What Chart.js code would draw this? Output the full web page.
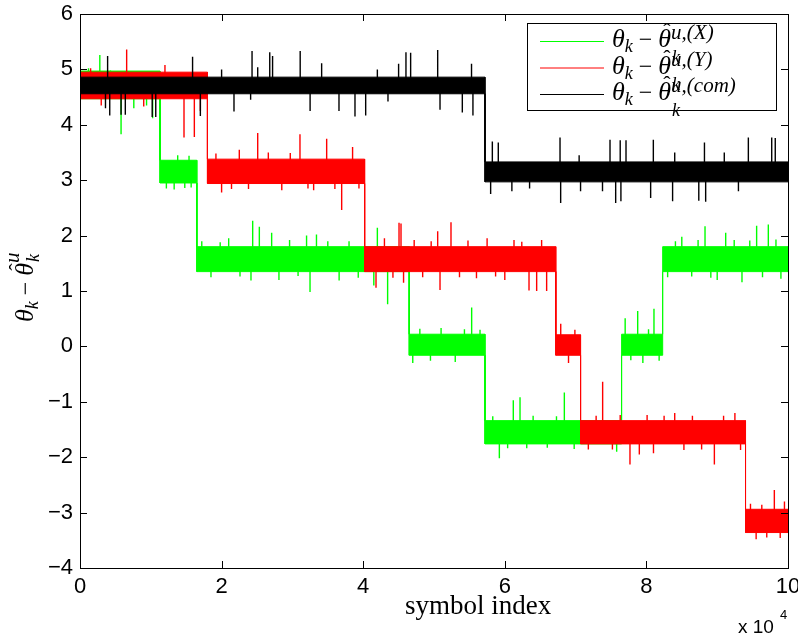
<!DOCTYPE html>
<html>
<head>
<script src="https://cdn.jsdelivr.net/npm/chart.js"></script>
<style>
  body { margin: 0; background: #fff; }
</style>
</head>
<body>
<canvas id="thetaChart" width="798" height="637"></canvas>
<script>
// step boundaries (symbol index) and edges of the dense noise band on each step
const breaksX = [0, 11300, 16500, 46500, 57200, 76500, 82300, 100000];
const lowX  = [4.47, 2.95, 1.35, -0.16, -1.76, -0.16, 1.35];
const highX = [4.97, 3.36, 1.80, 0.22, -1.34, 0.22, 1.80];
const spikesX = [
  [1200, 5.02], [2800, 5.26], [4300, 4.98], [5800, 3.83], [7600, 4.30], [8400, 4.97], [9400, 4.35], [10260, 4.12],
  [12200, 2.85], [13300, 2.83], [13800, 3.45], [14800, 2.86], [15400, 3.44], [15700, 2.87],
  [17200, 1.90], [18500, 1.25], [19800, 1.88], [21000, 1.95], [22600, 1.26], [24150, 1.19], [24390, 2.27], [25330, 2.16],
  [27070, 2.05], [28100, 1.20], [29600, 1.92], [30800, 1.27], [32000, 2.00], [32490, 0.98], [33400, 2.02], [35000, 1.90],
  [36600, 1.19], [38000, 1.90], [39300, 1.24], [41500, 1.10], [42000, 2.14], [43450, 0.76],
  [47000, -0.30], [48000, 0.32], [49500, -0.26], [51000, 0.33], [53000, -0.28], [54300, 0.31], [55320, 0.70], [56500, 0.30],
  [58300, -1.26], [59230, -2.02], [60400, -1.84], [61200, -0.97], [62150, -0.92], [63100, -1.84], [64000, -1.25],
  [66000, -1.83], [67300, -1.26], [68410, -0.83], [69800, -1.85], [75800, -1.90],
  [77000, 0.51], [77800, -0.25], [78770, 0.64], [79500, -0.30], [80300, 0.31], [81070, 0.68], [81800, -0.26],
  [83000, 1.25], [84100, 1.90], [85000, 1.98], [86400, 1.26], [87300, 1.92], [88280, 2.17], [89100, 1.24], [90000, 1.20],
  [91200, 2.05], [92400, 1.92], [93500, 1.16], [94600, 1.91], [95570, 2.18], [96400, 1.25], [97220, 2.20], [98300, 1.93], [99000, 1.22]
];

const breaksY = [0, 18000, 40200, 67200, 70700, 94000, 100000];
const lowY  = [4.47, 2.94, 1.35, -0.16, -1.76, -3.36];
const highY = [4.95, 3.38, 1.80, 0.21, -1.34, -2.94];
const spikesY = [
  [1500, 5.02], [3000, 4.35], [6590, 5.36], [9000, 4.33], [12000, 5.08], [14690, 3.77], [16150, 3.78], [17000, 4.25],
  [19200, 3.48], [20000, 2.78], [21400, 2.84], [22500, 3.55], [23800, 2.84], [25100, 3.85], [26600, 3.50], [28500, 2.82],
  [29700, 3.49], [31070, 3.83], [32200, 2.85], [33000, 2.82], [34840, 3.75], [36000, 2.84], [36960, 2.46], [38500, 3.60], [39400, 2.85],
  [41810, 1.06], [43000, 1.95], [44200, 1.24], [45060, 2.23], [45340, 2.22], [45700, 1.15], [47200, 1.92], [48400, 1.25],
  [49600, 1.90], [50520, 2.08], [50850, 1.02], [52400, 2.24], [53600, 1.25], [54800, 1.91], [56000, 1.23], [57500, 1.95],
  [58700, 1.26], [60000, 1.20], [61300, 1.92], [62400, 1.89], [63420, 1.01], [64500, 1.00], [65200, 1.92], [65910, 1.00],
  [67900, 0.41], [69000, -0.30], [69900, 0.30],
  [71800, -1.86], [72900, -1.25], [73820, -0.64], [75200, -1.86], [76300, -1.24], [77680, -2.13], [79000, -1.95], [80100, -1.24],
  [81000, -1.93], [82500, -1.25], [84000, -1.20], [85300, -1.87], [86500, -1.25], [87800, -1.86], [89600, -2.13], [90900, -1.25],
  [92500, -1.20], [93300, -1.87],
  [94700, -2.84], [95500, -3.48], [96300, -2.86], [97000, -3.45], [98070, -2.59], [98900, -3.46], [99500, -2.80]
];

const breaksCom = [0, 57200, 100000];
const lowCom  = [4.56, 2.97];
const highCom = [4.86, 3.33];
const spikesCom = [
  [3600, 4.30], [3900, 5.24], [4200, 4.17], [5800, 4.18], [6400, 4.18], [10200, 4.14], [10700, 4.14], [15900, 5.23], [17000, 4.16],
  [20000, 5.00], [21750, 4.24], [24100, 4.45], [24300, 5.33], [25100, 5.04], [26800, 5.31], [27200, 5.24], [31100, 5.33],
  [32500, 4.25], [34130, 5.11], [36580, 4.25], [38840, 4.15], [40350, 4.17], [42000, 5.00], [43500, 4.42], [45000, 5.10],
  [46040, 5.31], [46700, 5.30], [50520, 5.35], [50850, 4.27], [54000, 4.22], [55300, 5.10], [55500, 4.17],
  [58000, 2.75], [58240, 3.70], [59080, 3.68], [61000, 2.80], [63500, 2.85], [67800, 3.77], [67890, 2.59], [70500, 3.45], [70700, 2.80],
  [73800, 2.80], [74860, 3.73], [75660, 2.59], [76300, 3.72], [76400, 2.62], [77120, 3.72], [80600, 2.68], [80980, 3.73],
  [83700, 2.62], [84000, 3.50], [87400, 2.63], [88200, 3.68], [88370, 2.61], [91000, 3.50], [93000, 2.80], [94400, 3.77],
  [97700, 3.77], [98200, 3.76]
];

const xTickValues = [0, 20000, 40000, 60000, 80000, 100000];
const yTickValues = [-4, -3, -2, -1, 0, 1, 2, 3, 4, 5, 6];

const legendLabels = ['u,(X)', 'u,(Y)', 'u,(com)'];
const seriesColors = ['#00ff00', '#ff0000', '#000000'];

function edgePoints(breaks, edge) {
  const pts = [];
  for (let i = 0; i < edge.length; i++) {
    pts.push({x: breaks[i], y: edge[i]});
    pts.push({x: breaks[i + 1], y: edge[i]});
  }
  return pts;
}

function spikePoints(breaks, low, high, spikes) {
  const pts = [];
  spikes.forEach(function (s) {
    let i = 0;
    while (i < low.length - 1 && s[0] >= breaks[i + 1]) i++;
    pts.push({x: s[0], y: (low[i] + high[i]) / 2});
    pts.push({x: s[0], y: s[1]});
    pts.push({x: s[0], y: null});
  });
  return pts;
}

function seriesSets(breaks, low, high, spikes, color, order) {
  const base = {borderColor: color, borderWidth: 1, pointRadius: 0, tension: 0, order: order};
  return [
    Object.assign({data: edgePoints(breaks, high), fill: '+1', backgroundColor: color}, base),
    Object.assign({data: edgePoints(breaks, low), fill: false}, base),
    Object.assign({data: spikePoints(breaks, low, high, spikes), fill: false, spanGaps: false}, base, {borderWidth: 1.4})
  ];
}

const datasets = [].concat(
  seriesSets(breaksX, lowX, highX, spikesX, seriesColors[0], 2),
  seriesSets(breaksY, lowY, highY, spikesY, seriesColors[1], 1),
  seriesSets(breaksCom, lowCom, highCom, spikesCom, seriesColors[2], 0)
);

const mathFont = '"Liberation Serif", serif';

// pieces of math-like text: [text, size, italic, dy, advance, dx]
function drawPieces(ctx, x, y, pieces) {
  pieces.forEach(function (p) {
    ctx.font = (p[2] ? 'italic ' : '') + p[1] + 'px ' + mathFont;
    ctx.fillText(p[0], x + (p[5] || 0), y + p[3]);
    if (p[4] !== false) x += ctx.measureText(p[0]).width;
  });
  return x;
}

// θ_k − θ̂^{sup}_k
function drawTheta(ctx, x, y, sup, subDy, supDy) {
  const xe = drawPieces(ctx, x, y, [
    ['\u03b8', 26, true, 0], ['k', 18, true, 5], [' \u2212 ', 24, false, 0],
    ['\u02c6', 22, false, -9, false, 5], ['\u03b8', 26, true, 0]
  ]);
  drawPieces(ctx, xe, y, [['k', 18, true, subDy, false, 1], [sup, 21, true, supDy]]);
}

const framePlugin = {
  id: 'frame',
  afterDraw(chart) {
    const ctx = chart.ctx;
    const a = chart.chartArea;
    const xs = chart.scales.x, ys = chart.scales.y;
    ctx.save();
    ctx.strokeStyle = '#000';
    ctx.lineWidth = 1;
    ctx.strokeRect(a.left + 0.5, a.top + 0.5, a.right - a.left, a.bottom - a.top);
    ctx.beginPath();
    xTickValues.forEach(function (v) {
      const px = Math.round(xs.getPixelForValue(v)) + 0.5;
      ctx.moveTo(px, a.bottom); ctx.lineTo(px, a.bottom - 7);
      ctx.moveTo(px, a.top); ctx.lineTo(px, a.top + 7);
    });
    yTickValues.forEach(function (v) {
      const py = Math.round(ys.getPixelForValue(v)) + 0.5;
      ctx.moveTo(a.left, py); ctx.lineTo(a.left + 7, py);
      ctx.moveTo(a.right, py); ctx.lineTo(a.right - 7, py);
    });
    ctx.stroke();

    // legend box
    ctx.fillStyle = '#fff';
    ctx.fillRect(527, 23, 249, 87);
    ctx.strokeRect(527.5, 23.5, 249, 87);
    ctx.fillStyle = '#000';
    ctx.textAlign = 'left';
    ctx.textBaseline = 'alphabetic';
    for (let i = 0; i < 3; i++) {
      const ly = 41 + i * 26.5;
      ctx.strokeStyle = seriesColors[i];
      ctx.beginPath();
      ctx.moveTo(540, ly + 0.5); ctx.lineTo(604, ly + 0.5);
      ctx.stroke();
      drawTheta(ctx, 612, ly + 6, legendLabels[i], 16, -8);
    }

    // x label and exponent
    ctx.font = '27px ' + mathFont;
    ctx.fillText('symbol index', 405, 614);
    ctx.font = '19px "Liberation Sans", sans-serif';
    ctx.fillText('x 10', 738, 633);
    ctx.font = '13px "Liberation Sans", sans-serif';
    ctx.fillText('4', 780, 619);

    // y label (rotated)
    ctx.save();
    ctx.translate(33, 322);
    ctx.rotate(-Math.PI / 2);
    drawTheta(ctx, 0, 0, 'u', 6, -14);
    ctx.restore();
    ctx.restore();
  }
};

new Chart(document.getElementById('thetaChart'), {
  type: 'line',
  data: {datasets: datasets},
  options: {
    responsive: false,
    animation: false,
    layout: {padding: {top: 14, right: 10, left: 0, bottom: 0}},
    plugins: {legend: {display: false}, tooltip: {enabled: false}},
    scales: {
      x: {
        type: 'linear', min: 0, max: 100000,
        afterFit(s) { s.height = 69; s.paddingLeft = 0; s.paddingRight = 0; },
        afterBuildTicks(s) { s.ticks = xTickValues.map(function (v) { return {value: v}; }); },
        grid: {display: false, drawTicks: false},
        border: {display: false},
        ticks: {
          padding: 6, color: '#000', maxRotation: 0, autoSkip: false,
          font: {family: '"Liberation Sans", sans-serif', size: 22},
          callback: function (v) { return String(v / 10000); }
        }
      },
      y: {
        min: -4, max: 6,
        afterFit(s) { s.width = 80; s.paddingTop = 0; s.paddingBottom = 0; },
        afterBuildTicks(s) { s.ticks = yTickValues.map(function (v) { return {value: v}; }); },
        grid: {display: false, drawTicks: false},
        border: {display: false},
        ticks: {
          padding: 7, color: '#000',
          font: {family: '"Liberation Sans", sans-serif', size: 22},
          callback: function (v) { return String(v).replace('-', '\u2212'); }
        }
      }
    }
  },
  plugins: [framePlugin]
});
</script>
</body>
</html>
